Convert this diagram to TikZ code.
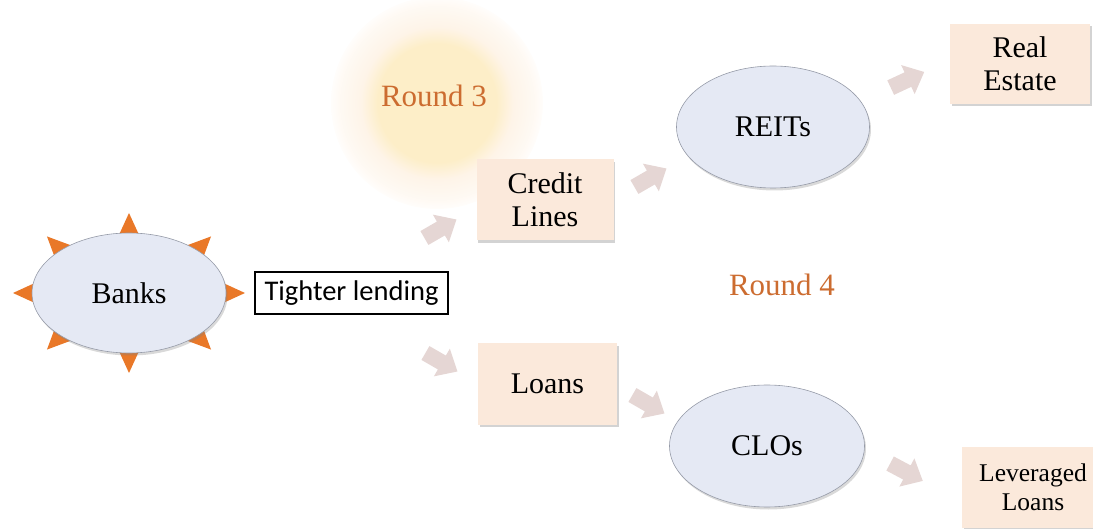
\documentclass[tikz,border=0pt]{standalone}
\usepackage{fontspec}
\setmainfont{Liberation Serif}
\newfontfamily\calib{Carlito}
\usetikzlibrary{shadows,shapes.geometric}
\definecolor{ellfill}{RGB}{229,233,244}
\definecolor{ellline}{RGB}{150,155,168}
\definecolor{boxfill}{RGB}{251,233,219}
\definecolor{arrfill}{RGB}{229,214,212}
\definecolor{spikec}{RGB}{233,120,40}
\definecolor{roundc}{RGB}{204,108,48}
\definecolor{glowc}{RGB}{253,238,200}
\definecolor{glowrim}{RGB}{254,244,232}
\pgfdeclareradialshading{glowshade}{\pgfpoint{0bp}{0bp}}{color(0bp)=(glowc); color(14bp)=(glowc); color(18bp)=(glowrim); color(23bp)=(glowrim!50!white); color(26bp)=(white); color(50bp)=(white)}
\newcommand\myblockarr[3]{%
  \fill[arrfill, shift={(#1,#2)}, rotate=#3] (-18,-8) -- (1,-8) -- (1,-16) -- (19,0) -- (1,16) -- (1,8) -- (-18,8) -- cycle;}
\tikzset{
  ell/.style={ellipse, draw=ellline, line width=0.6pt, fill=ellfill, font=\rmfamily\fontsize{30}{35}\selectfont,
    drop shadow={opacity=0.3, shadow xshift=1.5pt, shadow yshift=-2.5pt}},
  pbox/.style={rectangle, fill=boxfill, align=center, inner sep=0pt,
    drop shadow={opacity=0.35, shadow xshift=1.5pt, shadow yshift=-2.5pt}},
  roundlbl/.style={text=roundc, font=\rmfamily\fontsize{31}{36}\selectfont},
  spike/.style={fill=spikec},
}
\begin{document}
\begin{tikzpicture}[x=1pt,y=-1pt]
\useasboundingbox (0,0) rectangle (1093,529);
% glow
\shade[shading=glowshade] (437,103) circle (106);
\node[roundlbl] (r3) at (434,96) {Round 3};
% banks spikes
\foreach \a in {0,45,...,315}{
  \fill[spike] ({129+92*cos(\a)-11*sin(\a)},{293+56*sin(\a)+11*cos(\a)})
    -- ({129+116*cos(\a)},{293+80*sin(\a)})
    -- ({129+92*cos(\a)+11*sin(\a)},{293+56*sin(\a)-11*cos(\a)}) -- cycle;
}
\node[ell, minimum width=194pt, minimum height=120pt] (banks) at (129,293) {Banks};
\node[draw=black, line width=1.2pt, fill=white, minimum width=193pt, minimum height=42pt, inner sep=0pt,
  font=\calib\fontsize{28.5}{32}\selectfont] (tight) at (351.5,293) {Tighter lending};
% boxes
\node[pbox, minimum width=137pt, minimum height=81pt, font=\rmfamily\fontsize{30}{33}\selectfont] (credit) at (545,200) {Credit\\Lines};
\node[pbox, minimum width=139pt, minimum height=81pt, font=\rmfamily\fontsize{30}{33}\selectfont] (loans) at (547.5,384) {Loans};
\node[pbox, minimum width=140pt, minimum height=80pt, font=\rmfamily\fontsize{30}{33}\selectfont] (realestate) at (1020,64) {Real\\Estate};
\node[pbox, minimum width=142pt, minimum height=81pt, font=\rmfamily\fontsize{25.5}{29}\selectfont] (lev) at (1033,487) {Leveraged\\Loans};
% ellipses
\node[ell, minimum width=193pt, minimum height=122pt] (reits) at (773,127) {REITs};
\node[ell, minimum width=195pt, minimum height=122pt] (clos) at (767,446) {CLOs};
\node[roundlbl] (r4) at (782,285) {Round 4};
% block arrows
\myblockarr{440}{229}{30}
\myblockarr{441}{362}{-30}
\myblockarr{650}{178}{30}
\myblockarr{648}{404}{-30}
\myblockarr{907}{80}{25}
\myblockarr{906}{472}{-28}
\end{tikzpicture}
\end{document}
